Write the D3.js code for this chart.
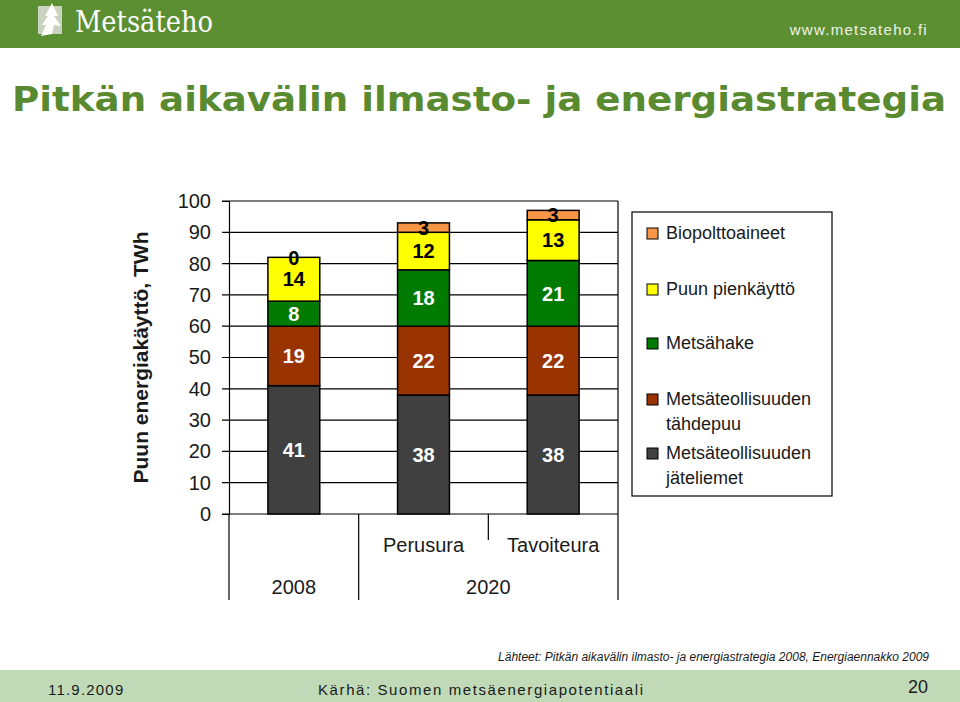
<!DOCTYPE html>
<html lang="fi">
<head>
  <meta charset="UTF-8">
  <title>Pitkän aikavälin ilmasto- ja energiastrategia</title>
  <script src="https://d3js.org/d3.v7.min.js"></script>
  <style>
    body { margin: 0; background: #ffffff; }
    svg { display: block; }
  </style>
</head>
<body>
  <script>
    // data
    const categories = ["2008", "Perusura", "Tavoiteura"];
    const groupLabels = ["2008", "2020"];
    const seriesNames = ["Metsäteollisuuden jäteliemet", "Metsäteollisuuden tähdepuu",
                         "Metsähake", "Puun pienkäyttö", "Biopolttoaineet"];
    const jateliemet = [41, 38, 38];
    const tahdepuu = [19, 22, 22];
    const metsahake = [8, 18, 21];
    const pienkaytto = [14, 12, 13];
    const biopolttoaineet = [0, 3, 3];
    const yTicks = [0, 10, 20, 30, 40, 50, 60, 70, 80, 90, 100];

    const seriesColors = ["#404040", "#993300", "#007a00", "#ffff00", "#f79646"];
    const labelColors = ["#ffffff", "#ffffff", "#ffffff", "#000000", "#000000"];

    const width = 960, height = 702;
    const green = "#5b8f32";

    const svg = d3.select("body").append("svg")
        .attr("width", width)
        .attr("height", height)
        .attr("viewBox", [0, 0, width, height].join(" "));

    // header band
    svg.append("rect").attr("x", 0).attr("y", 0).attr("width", width).attr("height", 48).attr("fill", green);
    svg.append("rect").attr("x", 38).attr("y", 6).attr("width", 24).attr("height", 28).attr("fill", "#c9d3c0");
    svg.append("path")
        .attr("d", "M52,3 L58,16 L54,16 L61,26 L54,25 L52,34 L41,36 L46,25 L42,25 L48,16 L45,16 Z")
        .attr("fill", "#ffffff");
    svg.append("text")
        .attr("x", 75).attr("y", 32)
        .attr("fill", "#ffffff")
        .style("font", "30px 'DejaVu Serif', serif")
        .attr("textLength", 138).attr("lengthAdjust", "spacingAndGlyphs")
        .text("Metsäteho");
    svg.append("text")
        .attr("x", 928).attr("y", 35)
        .attr("text-anchor", "end")
        .attr("fill", "#eef3e6")
        .style("font", "15px 'Liberation Sans', Arial, sans-serif")
        .style("letter-spacing", "1.3px")
        .text("www.metsateho.fi");

    // title
    svg.append("text")
        .attr("x", 12).attr("y", 111)
        .attr("fill", "#5a8a30")
        .style("font", "bold 34px 'DejaVu Sans', Verdana, sans-serif")
        .attr("textLength", 934).attr("lengthAdjust", "spacingAndGlyphs")
        .text("Pitkän aikavälin ilmasto- ja energiastrategia");

    // chart
    const x = d3.scaleBand()
        .domain(categories)
        .range([229, 618])
        .paddingInner(0.6)
        .paddingOuter(0.3);

    const y = d3.scaleLinear()
        .domain([0, 100])
        .range([514, 201]);

    const rows = categories.map((c, i) => ({
      category: c,
      [seriesNames[0]]: jateliemet[i],
      [seriesNames[1]]: tahdepuu[i],
      [seriesNames[2]]: metsahake[i],
      [seriesNames[3]]: pienkaytto[i],
      [seriesNames[4]]: biopolttoaineet[i]
    }));

    const stacked = d3.stack().keys(seriesNames)(rows);

    const font = "'Liberation Sans', Arial, sans-serif";

    // gridlines
    svg.append("g")
        .selectAll("line")
        .data(yTicks)
        .join("line")
          .attr("x1", x.range()[0] - 7)
          .attr("x2", x.range()[1])
          .attr("y1", d => y(d))
          .attr("y2", d => y(d))
          .attr("stroke", "#000")
          .attr("stroke-width", 1.2);

    // y axis
    const yAxis = svg.append("g")
        .attr("transform", `translate(${x.range()[0]},0)`)
        .call(d3.axisLeft(y).tickValues(yTicks).tickSize(7).tickPadding(11));
    yAxis.select(".domain").attr("stroke", "#000").attr("stroke-width", 1.2);
    yAxis.selectAll(".tick line").remove();
    yAxis.selectAll("text")
        .style("font", `20px ${font}`)
        .attr("fill", "#1a1a1a");

    // frame: right border, category separators
    const bottom = 600;
    svg.append("line")
        .attr("x1", x.range()[0]).attr("x2", x.range()[0])
        .attr("y1", y(0)).attr("y2", bottom)
        .attr("stroke", "#000").attr("stroke-width", 1.2);
    svg.append("line")
        .attr("x1", x.range()[1]).attr("x2", x.range()[1])
        .attr("y1", y(100)).attr("y2", bottom)
        .attr("stroke", "#000").attr("stroke-width", 1.2);
    const sep1 = x.range()[0] + x.step();
    const sep2 = x.range()[0] + 2 * x.step();
    svg.append("line")
        .attr("x1", sep1).attr("x2", sep1)
        .attr("y1", y(0)).attr("y2", bottom)
        .attr("stroke", "#000").attr("stroke-width", 1.2);
    svg.append("line")
        .attr("x1", sep2).attr("x2", sep2)
        .attr("y1", y(0)).attr("y2", 540)
        .attr("stroke", "#000").attr("stroke-width", 1.2);

    // bars
    const layer = svg.append("g")
        .selectAll("g")
        .data(stacked)
        .join("g")
          .attr("fill", (d, i) => seriesColors[i]);

    layer.selectAll("rect")
        .data(d => d.filter(s => s[1] - s[0] > 0))
        .join("rect")
          .attr("x", d => x(d.data.category))
          .attr("y", d => y(d[1]))
          .attr("width", x.bandwidth())
          .attr("height", d => y(d[0]) - y(d[1]))
          .attr("stroke", "#000")
          .attr("stroke-width", 1.5);

    // value labels
    svg.append("g")
        .selectAll("g")
        .data(stacked)
        .join("g")
          .attr("fill", (d, i) => labelColors[i])
        .selectAll("text")
        .data(d => d)
        .join("text")
          .attr("x", d => x(d.data.category) + x.bandwidth() / 2)
          .attr("y", d => y((d[0] + d[1]) / 2))
          .attr("dy", "0.36em")
          .attr("text-anchor", "middle")
          .style("font", `bold 20px ${font}`)
          .text(d => d[1] - d[0]);

    // category labels
    svg.append("g")
        .selectAll("text")
        .data(categories.slice(1))
        .join("text")
          .attr("x", d => x(d) + x.bandwidth() / 2)
          .attr("y", 552)
          .attr("text-anchor", "middle")
          .style("font", `20px ${font}`)
          .attr("fill", "#1a1a1a")
          .text(d => d);

    svg.append("text")
        .attr("x", x(categories[0]) + x.bandwidth() / 2)
        .attr("y", 594)
        .attr("text-anchor", "middle")
        .style("font", `20px ${font}`)
        .attr("fill", "#1a1a1a")
        .text(groupLabels[0]);
    svg.append("text")
        .attr("x", sep2)
        .attr("y", 594)
        .attr("text-anchor", "middle")
        .style("font", `20px ${font}`)
        .attr("fill", "#1a1a1a")
        .text(groupLabels[1]);

    // y axis title
    svg.append("text")
        .attr("transform", `translate(148,${(y(0) + y(100)) / 2}) rotate(-90)`)
        .attr("text-anchor", "middle")
        .style("font", `bold 21px ${font}`)
        .attr("fill", "#1a1a1a")
        .text("Puun energiakäyttö, TWh");

    // legend
    const legend = svg.append("g");
    legend.append("rect")
        .attr("x", 632).attr("y", 212)
        .attr("width", 200).attr("height", 284)
        .attr("fill", "#fff")
        .attr("stroke", "#000")
        .attr("stroke-width", 1.2);

    const legendItems = [
      { lines: ["Biopolttoaineet"], y: 233, c: 4 },
      { lines: ["Puun pienkäyttö"], y: 289, c: 3 },
      { lines: ["Metsähake"], y: 343, c: 2 },
      { lines: ["Metsäteollisuuden", "tähdepuu"], y: 399, c: 1 },
      { lines: ["Metsäteollisuuden", "jäteliemet"], y: 453, c: 0 }
    ];

    const li = legend.selectAll("g.item")
        .data(legendItems)
        .join("g")
          .attr("class", "item");
    li.append("rect")
        .attr("x", 647).attr("y", d => d.y - 5)
        .attr("width", 11).attr("height", 11)
        .attr("fill", d => seriesColors[d.c])
        .attr("stroke", "#000")
        .attr("stroke-width", 1);
    li.append("text")
        .attr("x", 666)
        .attr("y", d => d.y)
        .style("font", `18px ${font}`)
        .attr("fill", "#1a1a1a")
      .selectAll("tspan")
      .data(d => d.lines)
      .join("tspan")
        .attr("x", 666)
        .attr("dy", (d, i) => i === 0 ? "0.36em" : "1.35em")
        .text(d => d);

    // source
    svg.append("text")
        .attr("x", 929).attr("y", 661)
        .attr("text-anchor", "end")
        .style("font", `italic 12px ${font}`)
        .attr("fill", "#1a1a1a")
        .text("Lähteet: Pitkän aikavälin ilmasto- ja energiastrategia 2008, Energiaennakko 2009");

    // footer band
    svg.append("rect").attr("x", 0).attr("y", 670).attr("width", width).attr("height", 32).attr("fill", "#c0dab8");
    svg.append("text")
        .attr("x", 48).attr("y", 695)
        .style("font", `15px ${font}`)
        .style("letter-spacing", "1.2px")
        .attr("fill", "#1a1a1a")
        .text("11.9.2009");
    svg.append("text")
        .attr("x", 318).attr("y", 695)
        .style("font", `15px ${font}`)
        .attr("textLength", 325).attr("lengthAdjust", "spacing")
        .attr("fill", "#1a1a1a")
        .text("Kärhä: Suomen metsäenergiapotentiaali");
    svg.append("text")
        .attr("x", 928).attr("y", 693)
        .attr("text-anchor", "end")
        .style("font", `18px ${font}`)
        .attr("fill", "#1a1a1a")
        .text("20");
  </script>
</body>
</html>
